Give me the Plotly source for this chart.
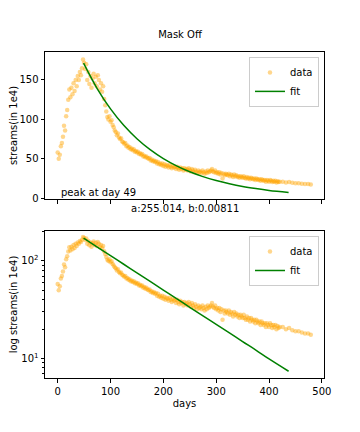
import plotly.graph_objects as go
from plotly.subplots import make_subplots

# streams (in 1e4) per day
days = list(range(0, 421, 2)) + [426, 432, 438, 444, 450, 456, 462, 468, 474, 479]
streams = [
    58, 50, 55, 66, 70, 78, 92, 86, 104, 112,        # 0-18
    125, 138, 128, 140, 132, 146, 136, 150, 142, 155,  # 20-38
    150, 160, 156, 165, 176, 172, 164, 170, 150, 160,  # 40-58
    145, 155, 140, 152, 158, 146, 154, 142, 156, 150,  # 60-78
    138, 146, 135, 142, 126, 118, 110, 103, 100, 104,  # 80-98
    97, 99, 93, 90, 86, 84, 80, 82, 77, 75,            # 100-118
    76, 72, 71, 69, 70, 66, 67, 64, 65, 62,            # 120-138
    63, 61, 62, 59, 60, 58, 59, 56, 57, 55,            # 140-158
    56, 53, 54, 52, 53, 51, 50, 51, 48, 49,            # 160-178
    47, 48, 46, 47, 44, 46, 43, 44, 42, 44,            # 180-198
    41, 43, 40, 42, 41, 39, 42, 40, 38, 41,            # 200-218
    39, 40, 37, 40, 38, 36, 39, 37, 38, 35,            # 220-238
    38, 36, 37, 35, 38, 36, 34, 37, 35, 33,            # 240-258
    36, 34, 32, 35, 33, 34, 32, 35, 33, 31,            # 260-278
    34, 32, 35, 33, 34, 35, 37, 34, 33, 35,            # 280-298
    32, 33, 31, 33, 30, 32, 25, 31, 29, 31,            # 300-318
    30, 29, 31, 28, 30, 29, 27, 30, 28, 29,            # 320-338
    27, 28, 26, 28, 27, 26, 28, 26, 25, 27,            # 340-358
    25, 26, 24, 26, 25, 24, 25, 23, 25, 24,            # 360-378
    23, 24, 22, 24, 23, 22, 23, 21, 23, 22,            # 380-398
    21, 23, 22, 20.5, 22, 21, 22, 20, 21.5, 20.5,      # 400-418
    21,                                                # 420
    21, 20, 20.5, 19.5, 19, 19, 18.5, 18, 18, 17.5,    # 426-479
]

# fitted curve as drawn (a:255.014, b:0.00811), from the peak onwards
fit_days = [49, 75, 100, 125, 150, 175, 200, 225, 250, 275, 300, 325, 350, 375, 400, 437]
fit_vals = [171.4, 138.8, 113.3, 92.5, 75.5, 61.6, 50.3, 41.1, 33.5, 27.4, 22.4, 18.3, 14.9, 12.2, 9.9, 7.4]

song = "Mask Off"
peak_day = 49
fit_label = "a:255.014, b:0.00811"

FONT = "DejaVu Sans"
ORANGE = "#ffa500"
GREEN = "#008000"

# the page body adds 8px on the left/top, so the figure is 8px smaller
W, H = 352, 424

fig = make_subplots(rows=2, cols=1, shared_xaxes=True, vertical_spacing=32 / 326)

for row, leg in [(1, "legend"), (2, "legend2")]:
    fig.add_trace(go.Scatter(x=days, y=streams, mode="markers", name="data",
                             marker=dict(color=ORANGE, size=4.5, opacity=0.45, line=dict(width=0)),
                             legend=leg), row=row, col=1)
    fig.add_trace(go.Scatter(x=fit_days, y=fit_vals, mode="lines", name="fit",
                             line=dict(color=GREEN, width=1.5, shape="spline"),
                             legend=leg), row=row, col=1)

axis_style = dict(showline=True, linecolor="black", linewidth=1, mirror=True,
                  ticks="outside", ticklen=3.5, tickwidth=1, tickcolor="black",
                  showgrid=False, zeroline=False, automargin=False,
                  tickfont=dict(family=FONT, size=10, color="black"))

fig.update_xaxes(range=[-24, 504], tickvals=[0, 100, 200, 300, 400, 500], **axis_style)
fig.update_xaxes(showticklabels=False, row=1, col=1)
fig.update_xaxes(title=dict(text="days", font=dict(family=FONT, size=10, color="black"), standoff=4),
                 row=2, col=1)

fig.update_yaxes(**axis_style)
fig.update_yaxes(range=[-1, 185.5], tickvals=[0, 50, 100, 150],
                 title=dict(text="streams(in 1e4)", font=dict(family=FONT, size=10, color="black"),
                            standoff=6),
                 row=1, col=1)
fig.update_yaxes(type="log", range=[0.80, 2.307], tickvals=[10, 100],
                 ticktext=["10<sup>1</sup>", "10<sup>2</sup>"],
                 minor=dict(ticks="outside", ticklen=2, tickwidth=0.8, tickcolor="black",
                            tickvals=[7, 8, 9, 20, 30, 40, 50, 60, 70, 80, 90, 200],
                            showgrid=False),
                 title=dict(text="log streams(in 1e4)", font=dict(family=FONT, size=10, color="black"),
                            standoff=6),
                 row=2, col=1)

legend_style = dict(bgcolor="rgba(255,255,255,0.8)", bordercolor="#cccccc", borderwidth=1,
                    font=dict(family=FONT, size=10, color="black"), itemwidth=30,
                    xanchor="right", yanchor="top", x=0.982, tracegroupgap=0)

fig.update_layout(
    width=W, height=H,
    margin=dict(l=37, r=36, t=44, b=54),
    paper_bgcolor="white", plot_bgcolor="white",
    font=dict(family=FONT, size=10, color="black"),
    title=dict(text=song, x=172 / W, xref="container", y=1 - 26 / H, yref="container",
               xanchor="center", yanchor="middle", font=dict(family=FONT, size=10, color="black")),
    legend=dict(y=0.985, **legend_style),
    legend2=dict(y=0.4356, **legend_style),
    annotations=[
        dict(text=f"peak at day {peak_day}", x=0, y=0, xref="x", yref="y",
             xanchor="left", yanchor="bottom", showarrow=False, xshift=1, yshift=-2,
             font=dict(family=FONT, size=10, color="black")),
        dict(text=fit_label, x=0.5, y=(378 - 208) / 326, xref="paper", yref="paper",
             xanchor="center", yanchor="middle", showarrow=False,
             font=dict(family=FONT, size=10, color="black")),
    ],
)

fig.write_html("out.html")
